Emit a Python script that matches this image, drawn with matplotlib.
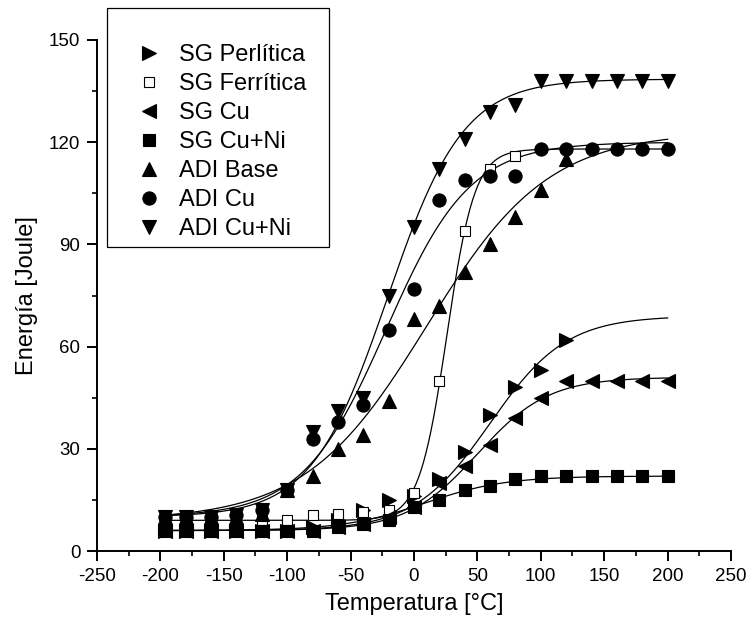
import numpy as np
import matplotlib.pyplot as plt
from matplotlib.patches import Rectangle

plt.rcParams['font.family'] = ['Liberation Sans', 'DejaVu Sans']
plt.rcParams['axes.unicode_minus'] = False

# measured points (temperature in °C, energy in J)
temp_full = [-196, -180, -160, -140, -120, -100, -80, -60, -40, -20, 0, 20, 40, 60, 80,
             100, 120, 140, 160, 180, 200]

sg_perlitica = [6, 6, 6, 6, 6, 6, 7, 9, 12, 15, 16, 21, 29, 40, 48, 53, 62]
sg_ferritica = [9, 9, 9, 9, 9, 9, 10.5, 11, 11.5, 12, 17, 50, 94, 112, 116]
sg_cu = [6, 6, 6, 6, 6, 6, 6, 7, 8, 10, 13, 20, 25, 31, 39, 45, 50, 50, 50, 50, 50]
sg_cuni = [6, 6, 6, 6, 6, 6, 6, 7, 8, 9, 13, 15, 18, 19, 21, 22, 22, 22, 22, 22, 22]
adi_base = [10, 10, 10, 10, 11, 18, 22, 30, 34, 44, 68, 72, 82, 90, 98, 106, 115]
adi_cu = [10, 10, 10, 10.5, 12, 18, 33, 38, 43, 65, 77, 103, 109, 110, 110,
          118, 118, 118, 118, 118, 118]
adi_cuni = [10, 10, 10, 10.5, 12, 18, 35, 41, 45, 75, 95, 112, 121, 129, 131,
            138, 138, 138, 138, 138, 138]

labels = ['SG Perlítica', 'SG Ferrítica', 'SG Cu', 'SG Cu+Ni',
          'ADI Base', 'ADI Cu', 'ADI Cu+Ni']

# Boltzmann fit parameters: lower, upper, center, width
fit_lower = [6, 9, 6, 6, 9, 10, 10]
fit_upper = [69, 118, 51, 22, 123, 120, 138.5]
fit_center = [60, 26, 50, 8, 10, -22, -21]
fit_width = [30, 11, 28, 32, 48, 33, 30]

series = [sg_perlitica, sg_ferritica, sg_cu, sg_cuni, adi_base, adi_cu, adi_cuni]
markers = ['>', 's', '<', 's', '^', 'o', 'v']
msizes = [10, 7.5, 10, 8, 10, 9.5, 10.5]
faces = ['black', 'white', 'black', 'black', 'black', 'black', 'black']

fig = plt.figure(figsize=(7.48, 6.28), dpi=100)
ax = fig.add_axes([97 / 748, 1 - 551 / 628, (731 - 97) / 748, (551 - 40) / 628])

t_fit = np.linspace(-196, 200, 400)
for lo, hi, c, w in zip(fit_lower, fit_upper, fit_center, fit_width):
    ax.plot(t_fit, lo + (hi - lo) / (1 + np.exp((c - t_fit) / w)),
            color='black', lw=0.9, zorder=2)

handles = []
for vals, m, ms, fc, lab in zip(series, markers, msizes, faces, labels):
    h, = ax.plot(temp_full[:len(vals)], vals, linestyle='none', marker=m,
                 markersize=ms, markerfacecolor=fc, markeredgecolor='black',
                 markeredgewidth=0.8, label=lab, zorder=3)
    handles.append(h)

ax.set_xlim(-250, 250)
ax.set_ylim(0, 150)
ax.set_xticks(np.arange(-250, 251, 50))
ax.set_xticks(np.arange(-225, 250, 50), minor=True)
ax.set_yticks(np.arange(0, 151, 30))
ax.set_yticks(np.arange(15, 150, 30), minor=True)
for s in ['top', 'right']:
    ax.spines[s].set_visible(False)
for s in ['left', 'bottom']:
    ax.spines[s].set_linewidth(1.4)
ax.tick_params(which='major', direction='out', length=7, width=1.4,
               labelsize=13.5, pad=5)
ax.tick_params(which='minor', direction='out', length=3.5, width=1.2)

ax.set_xlabel('Temperatura [°C]', fontsize=17, labelpad=6)
ax.set_ylabel('Energía [Joule]', fontsize=17, labelpad=8)

# legend box
fig.patches.append(Rectangle((107 / 748, 1 - 247 / 628), (329 - 107) / 748,
                             (247 - 8) / 628, transform=fig.transFigure,
                             facecolor='white', edgecolor='black', lw=0.9,
                             zorder=5))
leg = fig.legend(handles=handles, loc='upper left',
                 bbox_to_anchor=(125 / 748, 1 - 32 / 628), frameon=False,
                 fontsize=17, handlelength=1.0, handletextpad=0.8,
                 labelspacing=0.3, borderpad=0)
leg.set_zorder(6)

fig.savefig('out.png', dpi=100)
